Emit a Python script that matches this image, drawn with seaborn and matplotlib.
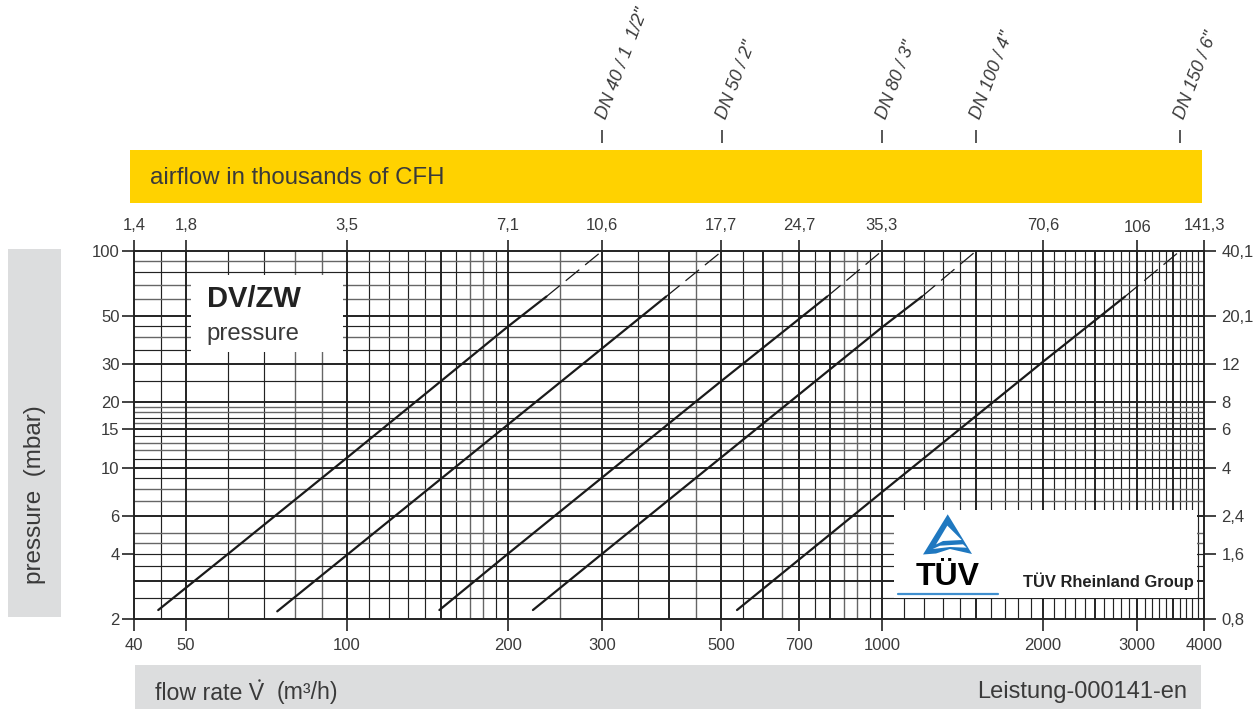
import pandas as pd
import seaborn as sns
import matplotlib.pyplot as plt
from matplotlib.patches import Polygon, Rectangle

# curves: flow in m3/h, pressure in mbar
dn40_flow = [44.4, 60, 100, 200, 236]
dn40_pressure = [2.2, 4, 11.1, 44.8, 61.6]
dn40_dash_flow = [236, 300]
dn50_flow = [74.1, 100, 200, 395]
dn50_pressure = [2.17, 3.95, 15.8, 61.6]
dn50_dash_flow = [395, 503]
dn80_flow = [148.9, 200, 500, 790]
dn80_pressure = [2.2, 4, 25, 61.6]
dn80_dash_flow = [790, 1000]
dn100_flow = [222.7, 300, 1000, 1188]
dn100_pressure = [2.2, 4, 44.4, 61.6]
dn100_dash_flow = [1188, 1500]
dn150_flow = [536, 1000, 2000, 2847]
dn150_pressure = [2.2, 7.7, 30.8, 61.6]
dn150_dash_flow = [2847, 3608]
dash_pressure = [61.6, 100]

x_ticks = [40, 50, 100, 200, 300, 500, 700, 1000, 2000, 3000, 4000]
x_labels = ["40", "50", "100", "200", "300", "500", "700", "1000", "2000", "3000", "4000"]
top_ticks = [40, 50, 100, 200, 300, 500, 700, 1000, 2000, 3000, 4000]
top_labels = ["1,4", "1,8", "3,5", "7,1", "10,6", "17,7", "24,7", "35,3", "70,6", "106", "141,3"]
y_ticks = [2, 4, 6, 10, 15, 20, 30, 50, 100]
y_labels = ["2", "4", "6", "10", "15", "20", "30", "50", "100"]
right_labels = ["0,8", "1,6", "2,4", "4", "6", "8", "12", "20,1", "40,1"]

dn_flows = [300, 503, 1000, 1500, 3608]
dn_labels = ['DN 40 / 1  1/2"', 'DN 50 / 2"', 'DN 80 / 3"', 'DN 100 / 4"', 'DN 150 / 6"']

x_grid = [45, 60, 70, 110, 120, 130, 140, 160, 190, 350, 550, 750, 950,
          1100, 1200, 1300, 1400, 1600, 1700, 1800, 1900, 2100, 2200, 2300, 2400,
          2600, 2700, 2800, 2900, 3100, 3200, 3300, 3400, 3600, 3700, 3800, 3900]
x_grid_gray = [80, 90, 170, 180, 250, 450, 650, 850, 900]
x_grid_dark = [50, 100, 150, 200, 300, 400, 500, 600, 700, 800, 1000, 1500, 2000, 2500, 3000, 3500]
y_grid = [2.5, 3.5, 4, 9, 11, 14, 17, 25, 35, 45, 80]
y_grid_gray = [4.5, 5, 7, 8, 12, 13, 16, 18, 19, 40, 60, 70, 90]
y_grid_dark = [3, 6, 10, 15, 20, 30, 50]

INK = "#3a3a3a"
LINE = "#222222"

sns.set_theme(style="white")
plt.rcParams["font.family"] = ["Liberation Sans", "DejaVu Sans"]

fig = plt.figure(figsize=(12.59, 7.09), dpi=100)
ax = fig.add_axes([134 / 1259, 1 - 619 / 709, 1070 / 1259, 368 / 709])
ax.set_xscale("log")
ax.set_yscale("log")

for v in x_grid:
    ax.axvline(v, color=LINE, lw=0.85, zorder=1)
for v in x_grid_gray:
    ax.axvline(v, color="#666666", lw=1.0, zorder=1)
for v in x_grid_dark:
    ax.axvline(v, color=LINE, lw=1.4, zorder=1.2)
for v in y_grid:
    ax.axhline(v, color=LINE, lw=0.85, zorder=1)
for v in y_grid_gray:
    ax.axhline(v, color="#666666", lw=1.0, zorder=1)
for v in y_grid_dark:
    ax.axhline(v, color=LINE, lw=1.4, zorder=1.2)

solid = pd.concat([
    pd.DataFrame({"flow": dn40_flow, "pressure": dn40_pressure, "size": "DN40"}),
    pd.DataFrame({"flow": dn50_flow, "pressure": dn50_pressure, "size": "DN50"}),
    pd.DataFrame({"flow": dn80_flow, "pressure": dn80_pressure, "size": "DN80"}),
    pd.DataFrame({"flow": dn100_flow, "pressure": dn100_pressure, "size": "DN100"}),
    pd.DataFrame({"flow": dn150_flow, "pressure": dn150_pressure, "size": "DN150"}),
])
dashed = pd.concat([
    pd.DataFrame({"flow": dn40_dash_flow, "pressure": dash_pressure, "size": "DN40"}),
    pd.DataFrame({"flow": dn50_dash_flow, "pressure": dash_pressure, "size": "DN50"}),
    pd.DataFrame({"flow": dn80_dash_flow, "pressure": dash_pressure, "size": "DN80"}),
    pd.DataFrame({"flow": dn100_dash_flow, "pressure": dash_pressure, "size": "DN100"}),
    pd.DataFrame({"flow": dn150_dash_flow, "pressure": dash_pressure, "size": "DN150"}),
])
sns.lineplot(data=solid, x="flow", y="pressure", units="size", estimator=None, sort=False,
             color="#1a1a1a", lw=1.6, legend=False, ax=ax, zorder=3)
sns.lineplot(data=dashed, x="flow", y="pressure", units="size", estimator=None, sort=False,
             color="#1a1a1a", lw=0.9, linestyle=(0, (14, 6)), legend=False, ax=ax, zorder=3)

ax.set_xlim(40, 4000)
ax.set_ylim(2, 100)
ax.set_xlabel("")
ax.set_ylabel("")
for s in ax.spines.values():
    s.set_linewidth(1.4)
    s.set_color(LINE)

ax.set_xticks(x_ticks, x_labels)
ax.set_yticks(y_ticks, y_labels)
ax.minorticks_off()
ax.tick_params(axis="both", which="major", length=8.5, width=1.2, color=LINE, labelcolor=INK,
               labelsize=12, left=True, bottom=True)
ax.tick_params(axis="x", pad=5)
ax.tick_params(axis="y", pad=2)

top = ax.secondary_xaxis("top")
top.set_xticks(top_ticks, top_labels)
top.minorticks_off()
top.tick_params(which="major", length=8, width=1.2, color=LINE, labelcolor=INK, labelsize=12, pad=5)
top.spines["top"].set_visible(False)
# the 106 label sits a little lower than the others
top.xaxis.get_major_ticks()[9].set_pad(3.5)

right = ax.secondary_yaxis("right")
right.set_yticks(y_ticks, right_labels)
right.minorticks_off()
right.tick_params(which="major", length=8.5, width=1.2, color=LINE, labelcolor=INK, labelsize=12, pad=4)
right.spines["right"].set_visible(False)

# DN markers above the yellow band, tied to the flow scale
xt = ax.get_xaxis_transform()
ax.vlines(dn_flows, (619 - 143) / 368, (619 - 130) / 368, transform=xt, color=INK, lw=1.2, clip_on=False)
for v, lab in zip(dn_flows, dn_labels):
    ax.text(v, (619 - 118) / 368, lab, transform=xt, rotation=69, rotation_mode="anchor",
            ha="left", va="center", fontsize=13, style="italic", color=INK, clip_on=False)

# overlay in pixel coordinates for bands, boxes and the logo
ov = fig.add_axes([0, 0, 1, 1], zorder=5)
ov.set_xlim(0, 1259)
ov.set_ylim(709, 0)
ov.axis("off")
ov.patch.set_alpha(0)

ov.add_patch(Rectangle((130, 150), 1072, 53, color="#FFD200", lw=0))
ov.add_patch(Rectangle((135, 665), 1066, 44, color="#DCDDDE", lw=0))
ov.add_patch(Rectangle((8, 249), 53, 368, color="#DCDDDE", lw=0))
ov.add_patch(Rectangle((191, 275), 152, 77, color="white", lw=0))
ov.add_patch(Rectangle((894, 510), 303, 88, color="white", lw=0))

ov.text(150, 178, "airflow in thousands of CFH", fontsize=17.3, color=INK, va="center")
ov.text(155, 693, "flow rate V", fontsize=16.7, color=INK, va="center")
ov.plot([259], [680], marker="o", ms=1.8, color=INK, mew=0)  # dot over the V
ov.text(277, 693, "(m³/h)", fontsize=16.7, color=INK, va="center")
ov.text(1187, 692, "Leistung-000141-en", fontsize=17, color=INK, va="center", ha="right")
ov.text(35, 495, "pressure  (mbar)", fontsize=17.5, color=INK, va="center", ha="center", rotation=90)
ov.text(207, 299, "DV/ZW", fontsize=21, fontweight="bold", color="#222222", va="center")
ov.text(206, 334, "pressure", fontsize=17.2, color=INK, va="center")

# TUV logo
BLUE = "#1f78c0"
ov.add_patch(Polygon([(947.7, 514.3), (923, 554.5), (936, 553.5), (950, 549), (972, 554)], color=BLUE, lw=0))
ov.add_patch(Polygon([(947.3, 525.6), (936, 544.5), (943, 541), (961.7, 540)], color="white", lw=0))
ov.add_patch(Polygon([(932.7, 549), (940, 545.7), (963, 544.3), (966.7, 547.7), (950, 547)], color="white", lw=0))
ov.text(948, 577, "TÜV", fontsize=23, fontweight="bold", color="black", va="center", ha="center")
ov.plot([898, 998], [594, 594], color="#3f8fcf", lw=1.6)
ov.text(1023, 581, "TÜV Rheinland Group", fontsize=11.9, fontweight="bold", color="#222222", va="center")

fig.savefig("out.png", dpi=100)
